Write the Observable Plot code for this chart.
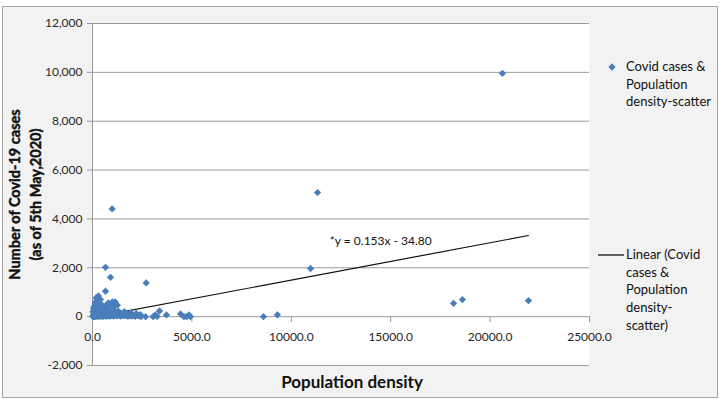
<!DOCTYPE html>
<html>
<head>
<meta charset="utf-8">
<script src="https://cdn.jsdelivr.net/npm/d3@7"></script>
<script src="https://cdn.jsdelivr.net/npm/@observablehq/plot@0.6"></script>
<style>
  body { margin: 0; background: #ffffff; }
  #wrap { position: relative; width: 722px; height: 408px; overflow: hidden; font-family: Lato, "Open Sans", sans-serif; }
  #bg { position: absolute; left: 2px; top: 6px; width: 714px; height: 390px; background: #f2f2f2; border: 1px solid #a6a6a6; }
  #chart { position: absolute; left: 0; top: 0; }
  .leg { position: absolute; font-size: 13px; line-height: 17.7px; color: #111; white-space: nowrap; }
</style>
</head>
<body>
<div id="wrap">
  <div id="bg"></div>
  <div id="chart"></div>
  <svg style="position:absolute;left:606px;top:61px" width="12" height="12"><path d="M6,2.3L9.7,6L6,9.7L2.3,6Z" fill="#4a7ebb"/></svg>
  <div class="leg" style="left:626px;top:58px">Covid cases &amp;<br>Population<br>density-scatter</div>
  <svg style="position:absolute;left:597px;top:250px" width="28" height="10"><line x1="1" y1="5" x2="27" y2="5" stroke="#000" stroke-width="1.2"/></svg>
  <div class="leg" style="left:626px;top:246px">Linear (Covid<br>cases &amp;<br>Population<br>density-<br>scatter)</div>
</div>
<script>
// Population density (x) and Covid-19 cases as of 5th May 2020 (y)
const density = [
  990, 654, 905, 2700, 654, 180, 1140, 920,
  3370, 3150, 3050, 3720, 4430, 4850, 4730, 4930, 4600, 2670, 2410, 3250,
  8600, 9300, 10970, 11320, 18160, 18610, 21930, 20620,
  20, 45, 60, 80, 95, 110, 120, 135, 150, 160, 175, 180, 190, 210, 225, 230, 245, 255,
  260, 270, 285, 290, 300, 310, 320, 330, 345, 350, 360, 375, 380, 395, 405, 415,
  430, 440, 450, 465, 470, 485, 495, 510, 520, 535, 540, 555, 570, 580, 595, 610,
  620, 640, 655, 670, 690, 700, 720, 735, 750, 770, 790, 800, 820, 840, 860, 880,
  900, 930, 950, 980, 1000, 1030, 1060, 1100, 1130, 1160, 1200, 1240, 1280, 1320, 1360, 1400,
  1450, 1500, 1560, 1620, 1700, 1780, 1850, 1950, 2050, 2150, 2250, 2350, 2450,
  260, 330, 400, 470, 600, 700, 850, 1000, 1300, 1600, 1900, 2200,
  100, 140, 170, 200, 230, 250, 280, 310, 340, 360, 390, 420, 450, 480, 500, 530,
  560, 590, 630, 660, 680, 710, 740, 760, 780, 810, 830, 870, 890, 920, 960, 1010,
  1050, 1080, 1120, 1150, 1180, 1220, 1260, 1350, 1420, 1480, 1550, 1650, 1750, 1820, 2000, 2100,
  2300, 60, 90, 130, 160, 210, 240, 120, 70, 40, 30, 50,
  300, 400, 800, 1000, 1250, 1100, 850, 700
];
const cases = [
  4410, 2020, 1610, 1380, 1040, 765, 600, 520,
  230, 70, 0, 70, 110, 70, 0, 0, 0, 0, 80, 10,
  0, 75, 1970, 5080, 545, 700, 655, 9960,
  5, 12, 0, 30, 8, 55, 20, 150, 90, 10, 250, 40, 120, 60, 350, 15, 180, 80,
  420, 30, 210, 100, 300, 50, 140, 10, 260, 70, 190, 400, 25, 120, 230, 60,
  330, 150, 20, 90, 280, 45, 170, 380, 75, 130, 10, 240, 60, 180, 30, 320,
  95, 140, 40, 210, 80, 15, 170, 110, 50, 260, 90, 30, 150, 70, 200, 25,
  120, 60, 180, 40, 100, 140, 20, 80, 160, 50, 110, 30, 90, 60, 130, 20,
  70, 40, 100, 30, 60, 15, 50, 20, 40, 10, 60, 25, 5,
  620, 560, 480, 450, 400, 330, 290, 250, 220, 200, 150, 130,
  300, 380, 460, 520, 600, 480, 540, 430, 380, 500, 320, 420, 360, 300, 460, 340,
  280, 360, 300, 380, 260, 300, 240, 330, 200, 280, 220, 250, 180, 230, 200, 190,
  230, 170, 200, 140, 180, 150, 160, 120, 140, 110, 120, 90, 100, 80, 90, 70,
  50, 200, 420, 520, 600, 450, 380, 260, 100, 60, 200, 330,
  850, 700, 560, 600, 470, 420, 450, 480
];
const xTicks = [0, 5000, 10000, 15000, 20000, 25000];
const yTicks = [-2000, 0, 2000, 4000, 6000, 8000, 10000, 12000];
const slope = 0.153, intercept = -34.80;
const equation = "*y = 0.153x - 34.80";
const eqPos = {x: 14500, y: 3080};
const yTitle = "Number of Covid-19 cases\n(as of 5th May,2020)";
const xTitle = "Population density";

const points = density.map((d, i) => ({x: d, y: cases[i]}));
const [x0, x1] = d3.extent(density);
const trend = [x0, x1].map(x => ({x, y: slope * x + intercept}));
const fmtY = d => d3.format(",")(d).replace("\u2212", "-");
const fmtX = d3.format(".1f");
const gray = "#9a9a9a";

const chart = Plot.plot({
  width: 722, height: 408,
  marginLeft: 92, marginRight: 133, marginTop: 23, marginBottom: 43,
  style: {background: "transparent", fontFamily: "Lato, 'Open Sans', sans-serif", fontSize: "12px", color: "#262626"},
  x: {domain: [0, 25000], axis: null},
  y: {domain: [-2000, 12000], axis: null},
  marks: [
    Plot.frame({fill: "white", stroke: null}),
    Plot.gridY(yTicks, {stroke: gray, strokeOpacity: 1}),
    Plot.ruleX([0], {stroke: gray}),
    Plot.axisY(yTicks, {tickSize: 5, tickPadding: 5, tickFormat: fmtY, stroke: gray, fontSize: 12, label: null}),
    Plot.ruleX(xTicks, {x: d => d, y1: 0, y2: -240, stroke: gray}),
    Plot.text(xTicks, {x: d => d, y: 0, dy: 21, text: fmtX, fontSize: 12}),
    Plot.line(trend, {x: "x", y: "y", stroke: "#111", strokeWidth: 1.2}),
    Plot.dot(points, {x: "x", y: "y", symbol: "diamond2", r: 3.3, fill: "#4a7ebb", stroke: "none"}),
    Plot.text([equation], {x: () => eqPos.x, y: () => eqPos.y, text: d => d, fontSize: 12, fill: "#111"}),
    Plot.text([xTitle], {frameAnchor: "bottom", dx: 11, dy: 22, text: d => d, fontSize: 17, fontWeight: 700, fill: "#111"}),
    Plot.text([yTitle], {frameAnchor: "left", textAnchor: "middle", dx: -68.5, dy: 0, rotate: -90, text: d => d, fontSize: 14.5, fontWeight: 700, lineHeight: 1.4, fill: "#111", stroke: "#111", strokeWidth: 0.45})
  ]
});
document.getElementById("chart").appendChild(chart);
</script>
</body>
</html>
